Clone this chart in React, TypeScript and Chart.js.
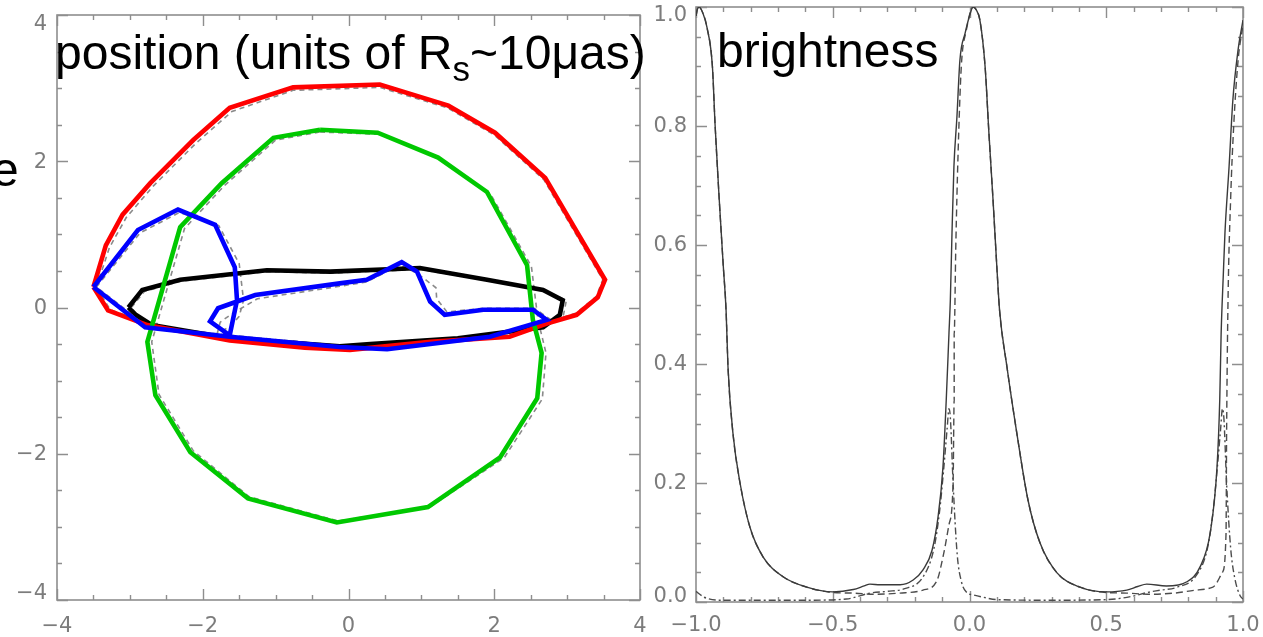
import React, { useEffect, useRef } from "react";
import { Chart, registerables } from "chart.js";

Chart.register(...registerables);

const M = "\u2212";

// ---------- left panel: position curves (units of Rs) ----------
const redX = [-3.5, -3.33, -3.1, -2.72, -2.13, -1.63, -0.76, 0.43, 1.37, 2.01, 2.7, 3.52, 3.42, 3.13, 2.72, 2.21, 1.12, 0.02, -0.6, -1.63, -2.76, -3.3, -3.5];
const redY = [0.28, 0.85, 1.27, 1.7, 2.29, 2.73, 3.01, 3.05, 2.76, 2.39, 1.77, 0.38, 0.14, -0.1, -0.22, -0.4, -0.47, -0.58, -0.55, -0.45, -0.24, -0.04, 0.28];

const greenX = [-0.39, 0.4, 1.23, 1.9, 2.45, 2.53, 2.65, 2.59, 2.08, 1.09, -0.16, -1.38, -2.17, -2.65, -2.76, -2.31, -1.74, -1.03, -0.39];
const greenY = [2.43, 2.39, 2.05, 1.58, 0.58, -0.17, -0.62, -1.24, -2.05, -2.73, -2.94, -2.61, -1.98, -1.2, -0.47, 1.1, 1.7, 2.32, 2.43];

const blackX = [-3.02, -2.83, -2.31, -1.12, -0.25, 0.98, 1.9, 2.67, 2.94, 2.9, 2.67, 1.5, 0.3, -0.12, -1.63, -2.7, -2.92, -3.02];
const blackY = [0.0, 0.24, 0.38, 0.51, 0.49, 0.54, 0.38, 0.24, 0.1, -0.1, -0.27, -0.42, -0.5, -0.53, -0.42, -0.24, -0.1, 0.0];

const blueX = [-3.5, -2.89, -2.34, -1.83, -1.56, -1.53, -1.63, -1.9, -1.79, -1.28, -0.12, 0.25, 0.73, 0.94, 1.12, 1.32, 1.85, 2.53, 2.72, 1.94, 0.53, -0.12, -1.63, -2.79, -3.5];
const blueY = [0.28, 1.06, 1.34, 1.13, 0.55, 0.1, -0.38, -0.19, -0.01, 0.17, 0.33, 0.38, 0.62, 0.49, 0.08, -0.1, -0.03, -0.03, -0.17, -0.4, -0.57, -0.54, -0.4, -0.27, 0.28];

// grey dashed companions (second model)
const redGrayX = [-3.46, -3.28, -3.05, -2.68, -2.1, -1.6, -0.76, 0.43, 1.36, 2.0, 2.68, 3.49, 3.4, 3.12, 2.72, 2.21, 1.12, 0.02, -0.6, -1.63, -2.74, -3.27, -3.46];
const redGrayY = [0.28, 0.82, 1.23, 1.66, 2.24, 2.68, 2.97, 3.01, 2.73, 2.36, 1.75, 0.38, 0.15, -0.08, -0.2, -0.38, -0.45, -0.56, -0.53, -0.43, -0.22, -0.03, 0.28];

const greenGrayX = [-0.39, 0.42, 1.27, 1.95, 2.51, 2.6, 2.71, 2.66, 2.14, 1.13, -0.14, -1.36, -2.13, -2.6, -2.7, -2.25, -1.7, -1.0, -0.39];
const greenGrayY = [2.4, 2.37, 2.03, 1.55, 0.56, -0.17, -0.62, -1.25, -2.05, -2.72, -2.92, -2.59, -1.96, -1.19, -0.47, 1.08, 1.67, 2.29, 2.4];

const blackGrayX = [-2.98, -2.8, -2.3, -1.12, -0.25, 0.98, 1.92, 2.7, 2.99, 2.95, 2.7, 1.5, 0.3, -0.12, -1.63, -2.7, -2.9, -2.98];
const blackGrayY = [0.0, 0.22, 0.36, 0.49, 0.47, 0.52, 0.37, 0.22, 0.1, -0.1, -0.26, -0.41, -0.49, -0.52, -0.41, -0.23, -0.1, 0.0];

const blueGrayX = [-3.46, -2.86, -2.32, -1.78, -1.5, -1.44, -1.5, -1.62, -1.8, -1.76, -1.62, -1.25, -0.12, 0.25, 0.7, 0.94, 1.2, 1.21, 1.35, 1.85, 2.55, 2.78, 1.94, 0.53, -0.12, -1.63, -2.77, -3.46];
const blueGrayY = [0.28, 1.02, 1.3, 1.12, 0.6, 0.1, -0.12, -0.26, -0.35, -0.2, -0.1, 0.12, 0.29, 0.35, 0.58, 0.47, 0.27, 0.12, -0.06, -0.01, -0.01, -0.17, -0.38, -0.55, -0.52, -0.38, -0.25, 0.28];

// ---------- right panel: brightness profiles ----------
const solidX = [-1.0, -0.995, -0.989, -0.975, -0.96, -0.94, -0.93, -0.915, -0.9, -0.89, -0.883, -0.865, -0.839, -0.803, -0.755, -0.68, -0.595, -0.5, -0.425, -0.385, -0.364, -0.327, -0.254, -0.206, -0.17, -0.137, -0.115, -0.097, -0.085, -0.075, -0.07, -0.064, -0.057, -0.046, -0.035, -0.016, 0.0, 0.013, 0.025, 0.038, 0.057, 0.071, 0.086, 0.1, 0.11, 0.137, 0.173, 0.214, 0.258, 0.32, 0.404, 0.5, 0.575, 0.615, 0.648, 0.72, 0.795, 0.843, 0.88, 0.905, 0.915, 0.92, 0.928, 0.934, 0.949, 0.963, 0.982, 1.0];
const solidY = [0.985, 0.996, 1.0, 0.99, 0.966, 0.9, 0.8, 0.676, 0.563, 0.49, 0.395, 0.284, 0.2, 0.126, 0.076, 0.042, 0.025, 0.017, 0.021, 0.027, 0.03, 0.029, 0.029, 0.037, 0.054, 0.087, 0.143, 0.227, 0.34, 0.452, 0.508, 0.62, 0.731, 0.815, 0.911, 0.956, 0.985, 1.0, 0.995, 0.978, 0.9, 0.788, 0.676, 0.563, 0.49, 0.395, 0.284, 0.171, 0.099, 0.049, 0.025, 0.017, 0.02, 0.026, 0.03, 0.027, 0.034, 0.059, 0.116, 0.227, 0.34, 0.45, 0.55, 0.62, 0.731, 0.844, 0.928, 0.978];

const dashedX = [-1.0, -0.995, -0.989, -0.975, -0.96, -0.94, -0.93, -0.915, -0.9, -0.89, -0.883, -0.865, -0.839, -0.803, -0.755, -0.68, -0.595, -0.5, -0.425, -0.35, -0.254, -0.17, -0.12, -0.095, -0.075, -0.06, -0.056, -0.056, -0.05, -0.042, -0.03, -0.012, 0.013, 0.025, 0.038, 0.057, 0.071, 0.086, 0.1, 0.11, 0.137, 0.173, 0.214, 0.258, 0.32, 0.404, 0.5, 0.575, 0.65, 0.75, 0.83, 0.89, 0.925, 0.938, 0.94, 0.945, 0.955, 0.966, 0.982, 1.0];
const dashedY = [0.985, 0.996, 1.0, 0.99, 0.966, 0.9, 0.8, 0.676, 0.563, 0.49, 0.395, 0.284, 0.2, 0.126, 0.076, 0.042, 0.025, 0.016, 0.015, 0.013, 0.015, 0.02, 0.035, 0.08, 0.13, 0.2, 0.34, 0.45, 0.6, 0.75, 0.9, 0.96, 1.0, 0.995, 0.978, 0.9, 0.788, 0.676, 0.563, 0.49, 0.395, 0.284, 0.171, 0.099, 0.049, 0.025, 0.016, 0.015, 0.013, 0.015, 0.02, 0.025, 0.05, 0.116, 0.28, 0.5, 0.68, 0.8, 0.91, 0.97];

const dashDotX = [-1.0, -0.97, -0.91, -0.8, -0.6, -0.45, -0.364, -0.3, -0.24, -0.17, -0.13, -0.11, -0.095, -0.082, -0.075, -0.07, -0.06, -0.045, -0.03, -0.01, 0.013, 0.05, 0.1, 0.3, 0.5, 0.6, 0.65, 0.7, 0.76, 0.83, 0.87, 0.89, 0.905, 0.918, 0.925, 0.93, 0.94, 0.955, 0.97, 0.99, 1.0];
const dashDotY = [0.018, 0.008, 0.003, 0.003, 0.003, 0.005, 0.015, 0.018, 0.022, 0.042, 0.09, 0.15, 0.22, 0.29, 0.325, 0.31, 0.2, 0.08, 0.035, 0.016, 0.012, 0.008, 0.004, 0.003, 0.004, 0.01, 0.016, 0.02, 0.025, 0.045, 0.09, 0.15, 0.22, 0.29, 0.325, 0.31, 0.2, 0.09, 0.04, 0.01, 0.005];

// ---------- tick definitions ----------
const posMajor = [-4, -2, 0, 2, 4];
const posMinor = [-3.5, -3, -2.5, -1.5, -1, -0.5, 0.5, 1, 1.5, 2.5, 3, 3.5];
const posLabels = [M + "4", M + "2", "0", "2", "4"];

const brXMajor = [-1, -0.5, 0, 0.5, 1];
const brXMinor = [-0.9, -0.8, -0.7, -0.6, -0.4, -0.3, -0.2, -0.1, 0.1, 0.2, 0.3, 0.4, 0.6, 0.7, 0.8, 0.9];
const brXLabels = [M + "1.0", M + "0.5", "0.0", "0.5", "1.0"];
const brYMajor = [0, 0.2, 0.4, 0.6, 0.8, 1.0];
const brYMinor = [0.05, 0.1, 0.15, 0.25, 0.3, 0.35, 0.45, 0.5, 0.55, 0.65, 0.7, 0.75, 0.85, 0.9, 0.95];
const brYLabels = ["0.0", "0.2", "0.4", "0.6", "0.8", "1.0"];

const pts = (xs: number[], ys: number[]) => xs.map((x, i) => ({ x, y: ys[i] }));

interface FrameCfg {
  xMajor: number[]; xMinor: number[]; xLabels: string[];
  yMajor: number[]; yMinor: number[]; yLabels: string[];
  xLabelDy: number; yLabelPad: number; yTopDy: number; yBotDy: number;
}

function framePlugin(cfg: FrameCfg) {
  return {
    id: "frameTicks",
    beforeDatasetsDraw(chart: any) {
      const { ctx, chartArea: a } = chart;
      const xs = chart.scales.x;
      const ys = chart.scales.y;
      ctx.save();
      ctx.strokeStyle = "#8e8e8e";
      ctx.lineWidth = 1.6;
      ctx.strokeRect(a.left, a.top, a.right - a.left, a.bottom - a.top);
      ctx.lineWidth = 1.4;
      const xt = (vals: number[], len: number) => {
        for (const v of vals) {
          const p = Math.round(xs.getPixelForValue(v)) + 0.5;
          ctx.beginPath();
          ctx.moveTo(p, a.bottom); ctx.lineTo(p, a.bottom - len);
          ctx.moveTo(p, a.top); ctx.lineTo(p, a.top + len);
          ctx.stroke();
        }
      };
      const yt = (vals: number[], len: number) => {
        for (const v of vals) {
          const p = Math.round(ys.getPixelForValue(v)) + 0.5;
          ctx.beginPath();
          ctx.moveTo(a.left, p); ctx.lineTo(a.left + len, p);
          ctx.moveTo(a.right, p); ctx.lineTo(a.right - len, p);
          ctx.stroke();
        }
      };
      xt(cfg.xMajor, 11); xt(cfg.xMinor, 5);
      yt(cfg.yMajor, 11); yt(cfg.yMinor, 5);
      ctx.restore();
    },
    afterDraw(chart: any) {
      const { ctx, chartArea: a } = chart;
      const xs = chart.scales.x;
      const ys = chart.scales.y;
      ctx.save();
      ctx.fillStyle = "#7c7c7c";
      ctx.font = '21px "DejaVu Sans", sans-serif';
      ctx.textBaseline = "middle";
      ctx.textAlign = "center";
      cfg.xMajor.forEach((v, i) => {
        ctx.fillText(cfg.xLabels[i], xs.getPixelForValue(v), a.bottom + cfg.xLabelDy);
      });
      ctx.textAlign = "right";
      const last = cfg.yMajor.length - 1;
      cfg.yMajor.forEach((v, i) => {
        const dy = i === last ? cfg.yTopDy : i === 0 ? cfg.yBotDy : 1;
        ctx.fillText(cfg.yLabels[i], a.left - cfg.yLabelPad, ys.getPixelForValue(v) + dy);
      });
      ctx.restore();
    },
  };
}

const hiddenAxis = (min: number, max: number, fit: (s: any) => void) => ({
  type: "linear" as const,
  min,
  max,
  grid: { display: false },
  border: { display: false },
  ticks: { display: false },
  afterFit: fit,
});

const lineDs = (data: any[], color: string, width: number, dash: number[] = [], smooth = false) => ({
  data,
  showLine: true,
  borderColor: color,
  borderWidth: width,
  borderDash: dash,
  pointRadius: 0,
  pointHoverRadius: 0,
  fill: false,
  tension: 0,
  cubicInterpolationMode: smooth ? "monotone" : "default",
});

export default function App() {
  const leftRef = useRef<HTMLCanvasElement>(null);
  const rightRef = useRef<HTMLCanvasElement>(null);

  useEffect(() => {
    const gray = "#8a8a8a";
    const left = new Chart(leftRef.current as HTMLCanvasElement, {
      type: "scatter",
      data: {
        datasets: [
          lineDs(pts(blueX, blueY), "#0000ff", 4.6),
          lineDs(pts(greenX, greenY), "#00c800", 4.6),
          lineDs(pts(redX, redY), "#ff0000", 4.6),
          lineDs(pts(blackX, blackY), "#000000", 4.6),
          lineDs(pts(blueGrayX, blueGrayY), gray, 1.6, [5, 4]),
          lineDs(pts(greenGrayX, greenGrayY), gray, 1.6, [5, 4]),
          lineDs(pts(redGrayX, redGrayY), gray, 1.6, [5, 4]),
          lineDs(pts(blackGrayX, blackGrayY), gray, 1.6, [5, 4]),
        ] as any,
      },
      options: {
        animation: false,
        responsive: false,
        devicePixelRatio: 1,
        events: [],
        layout: { padding: { left: 0, right: 20, top: 15, bottom: 0 } },
        plugins: { legend: { display: false }, tooltip: { enabled: false } },
        scales: {
          x: hiddenAxis(-4, 4, (s: any) => { s.height = 37; }),
          y: hiddenAxis(-4, 4, (s: any) => { s.width = 57; }),
        } as any,
      },
      plugins: [
        framePlugin({
          xMajor: posMajor, xMinor: posMinor, xLabels: posLabels,
          yMajor: posMajor, yMinor: posMinor, yLabels: posLabels,
          xLabelDy: 27, yLabelPad: 10, yTopDy: 10, yBotDy: -6,
        }),
      ],
    });

    const right = new Chart(rightRef.current as HTMLCanvasElement, {
      type: "scatter",
      data: {
        datasets: [
          lineDs(pts(solidX, solidY), "#3a3a3a", 1.4, [], true),
          lineDs(pts(dashedX, dashedY), "#4c4c4c", 1.4, [7, 4], true),
          lineDs(pts(dashDotX, dashDotY), "#4c4c4c", 1.4, [7, 3, 2, 3], true),
        ] as any,
      },
      options: {
        animation: false,
        responsive: false,
        devicePixelRatio: 1,
        events: [],
        layout: { padding: { left: 0, right: 20, top: 7, bottom: 0 } },
        plugins: { legend: { display: false }, tooltip: { enabled: false } },
        scales: {
          x: hiddenAxis(-1, 1, (s: any) => { s.height = 35; }),
          y: hiddenAxis(0, 1, (s: any) => { s.width = 56; }),
        } as any,
      },
      plugins: [
        framePlugin({
          xMajor: brXMajor, xMinor: brXMinor, xLabels: brXLabels,
          yMajor: brYMajor, yMinor: brYMinor, yLabels: brYLabels,
          xLabelDy: 24, yLabelPad: 9, yTopDy: 9, yBotDy: -5,
        }),
      ],
    });

    return () => {
      left.destroy();
      right.destroy();
    };
  }, []);

  const textFont = '48px "Liberation Sans", Arial, Helvetica, sans-serif';
  return (
    <div style={{ position: "fixed", left: 0, top: 0, width: 1263, height: 637, background: "#ffffff", overflow: "hidden" }}>
      <canvas ref={leftRef} width={660} height={637} style={{ position: "absolute", left: 0, top: 0 }} />
      <canvas ref={rightRef} width={623} height={637} style={{ position: "absolute", left: 640, top: 0 }} />
      <div style={{ position: "absolute", left: 55, top: 29, font: textFont, lineHeight: "48px", whiteSpace: "nowrap", color: "#000" }}>
        position (units of R
        <span style={{ fontSize: 35, lineHeight: "0px", position: "relative", top: 12 }}>s</span>
        ~10μas)
      </div>
      <div style={{ position: "absolute", left: 717, top: 27, font: textFont, lineHeight: "48px", whiteSpace: "nowrap", color: "#000" }}>
        brightness
      </div>
      <div style={{ position: "absolute", left: -8, top: 146, font: textFont, lineHeight: "48px", whiteSpace: "nowrap", color: "#000" }}>
        e
      </div>
    </div>
  );
}
